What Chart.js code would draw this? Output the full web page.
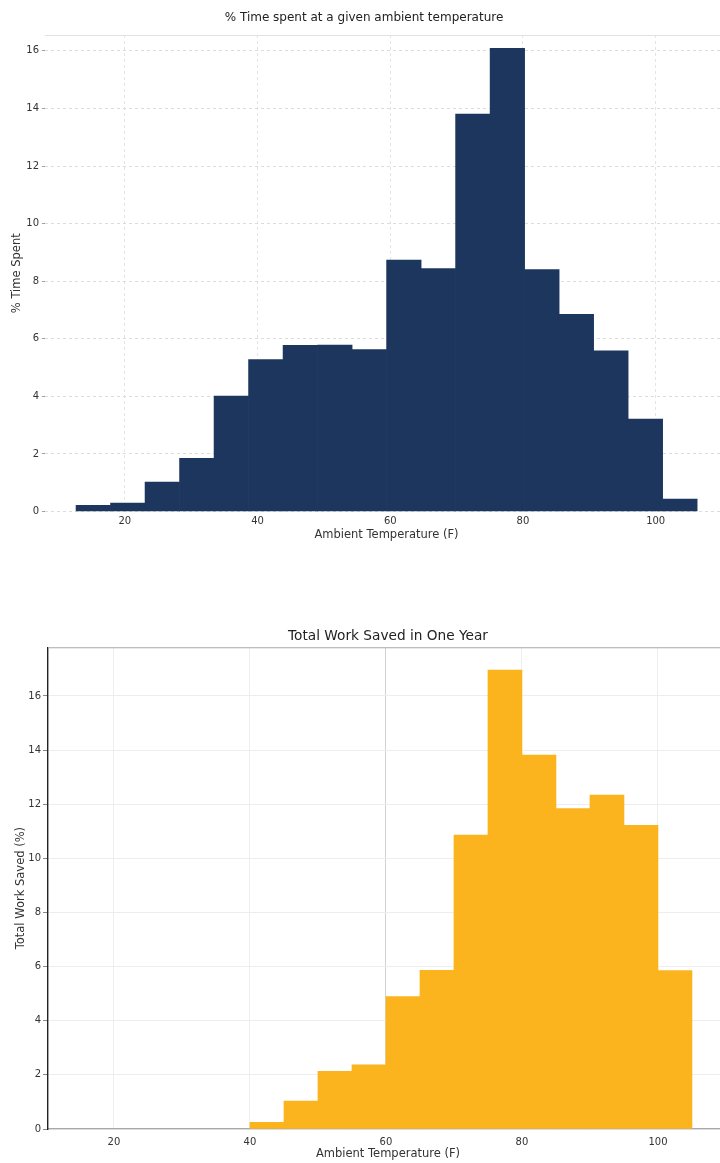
<!DOCTYPE html>
<html lang="en">
<head>
  <meta charset="UTF-8" />
  <title>Ambient temperature histograms</title>
  <script src="https://cdn.jsdelivr.net/npm/chart.js"></script>
  <style>
    html, body { margin: 0; padding: 0; background: #fff; overflow: hidden; }
    body { width: 720px; height: 1163px; position: relative; }
    canvas { position: absolute; left: 0; display: block; }
    #timeChart { top: 0; }
    #workChart { top: 610px; }
  </style>
</head>
<body>
  <!-- a bit wider than the window: the plot box runs off the right edge like the original -->
  <canvas id="timeChart" width="728" height="552"></canvas>
  <canvas id="workChart" width="728" height="553"></canvas>

  <script>
    // top histogram: bin centres (F) and % of time
    const timeBins = [15.25, 20.45, 25.65, 30.85, 36.05, 41.25, 46.45, 51.65, 56.85,
                      62.05, 67.25, 72.45, 77.65, 82.85, 88.05, 93.25, 98.45, 103.65];
    const timeValues = [0.21, 0.29, 1.02, 1.85, 4.01, 5.28, 5.77, 5.78, 5.62,
                        8.73, 8.44, 13.80, 16.09, 8.40, 6.85, 5.58, 3.21, 0.43];

    // bottom histogram: 5 degree bins from 40 to 105
    const workBins = [42.5, 47.5, 52.5, 57.5, 62.5, 67.5, 72.5, 77.5, 82.5, 87.5, 92.5, 97.5, 102.5];
    const workValues = [0.25, 1.03, 2.13, 2.37, 4.89, 5.86, 10.86, 16.96, 13.82, 11.84, 12.34, 11.22, 5.85];

    const tempTicks = [20, 40, 60, 80, 100];
    const pctTicks = [0, 2, 4, 6, 8, 10, 12, 14, 16];

    const FONT = "'DejaVu Sans', sans-serif";
    const TEXT = '#333';

    // draws the top edge of the plot box
    const framePlugin = {
      id: 'frame',
      afterDraw(chart, args, opts) {
        if (!opts.top) return;
        const { ctx, chartArea } = chart;
        ctx.save();
        ctx.strokeStyle = opts.top;
        ctx.lineWidth = opts.width || 1;
        ctx.beginPath();
        ctx.moveTo(chartArea.left, chartArea.top + 0.5);
        ctx.lineTo(chartArea.right, chartArea.top + 0.5);
        ctx.stroke();
        ctx.restore();
      }
    };

    function toPoints(xs, ys) {
      return xs.map((x, i) => ({ x: x, y: ys[i] }));
    }

    new Chart(document.getElementById('timeChart'), {
      type: 'bar',
      data: {
        datasets: [{
          data: toPoints(timeBins, timeValues),
          backgroundColor: '#1d365d',
          borderWidth: 0,
          barPercentage: 1,
          categoryPercentage: 1
        }]
      },
      options: {
        responsive: false,
        animation: false,
        layout: { padding: 0 },
        plugins: {
          legend: { display: false },
          tooltip: { enabled: false },
          title: {
            display: true,
            text: '% Time spent at a given ambient temperature',
            color: '#222',
            font: { family: FONT, size: 12, weight: 'normal' },
            padding: { top: 11, bottom: 9.6 }
          },
          frame: { top: '#e2e2e2', width: 1 }
        },
        scales: {
          x: {
            type: 'linear',
            min: 7.97,
            max: 110.9,
            offset: false,
            afterBuildTicks: s => { s.ticks = tempTicks.map(v => ({ value: v })); },
            afterFit: s => { s.height = 40.5; },
            border: { display: false, dash: [3, 3] },
            grid: {
              offset: false,
              color: '#dedede',
              lineWidth: 0.8,
              drawTicks: true,
              tickLength: 2,
              tickColor: 'rgba(0,0,0,0)'
            },
            ticks: { color: TEXT, font: { family: FONT, size: 10 }, padding: 2, maxRotation: 0 },
            title: {
              display: true,
              text: 'Ambient Temperature (F)',
              color: TEXT,
              font: { family: FONT, size: 11.5 },
              padding: { top: 0, bottom: 10 }
            }
          },
          y: {
            min: 0,
            max: 16.55,
            afterBuildTicks: s => { s.ticks = pctTicks.map(v => ({ value: v })); },
            afterFit: s => { s.width = 45; },
            border: { display: false, dash: [3, 3] },
            grid: {
              color: '#d4d4d4',
              lineWidth: 0.8,
              drawTicks: true,
              tickLength: 3,
              tickColor: '#888',
              tickBorderDash: []
            },
            ticks: { color: TEXT, font: { family: FONT, size: 10 }, padding: 3 },
            title: {
              display: true,
              text: '% Time Spent',
              color: TEXT,
              font: { family: FONT, size: 11.5 },
              padding: { top: 10, bottom: 0 }
            }
          }
        }
      },
      plugins: [framePlugin]
    });

    new Chart(document.getElementById('workChart'), {
      type: 'bar',
      data: {
        datasets: [{
          data: toPoints(workBins, workValues),
          backgroundColor: '#fbb41e',
          borderWidth: 0,
          barPercentage: 1,
          categoryPercentage: 1
        }]
      },
      options: {
        responsive: false,
        animation: false,
        layout: { padding: 0 },
        plugins: {
          legend: { display: false },
          tooltip: { enabled: false },
          title: {
            display: true,
            fullSize: false,   // centred over the plot box, not the canvas
            text: 'Total Work Saved in One Year',
            color: '#222',
            font: { family: FONT, size: 13.7, weight: 'normal' },
            padding: { top: 17.8, bottom: 3 }
          },
          frame: { top: '#a8a8a8', width: 1.2 }
        },
        scales: {
          x: {
            type: 'linear',
            min: 10.3,
            max: 110.3,
            offset: false,
            afterBuildTicks: s => { s.ticks = tempTicks.map(v => ({ value: v })); },
            afterFit: s => { s.height = 34; },
            border: { display: true, color: '#a8a8a8', width: 1.2 },
            grid: {
              offset: false,
              color: ctx => (ctx.tick && ctx.tick.value === 60 ? '#d2d2d2' : '#efefef'),
              lineWidth: 1,
              drawTicks: true,
              tickLength: 4,
              tickColor: 'rgba(0,0,0,0)'
            },
            ticks: { color: TEXT, font: { family: FONT, size: 10 }, padding: 3, maxRotation: 0 },
            title: {
              display: true,
              text: 'Ambient Temperature (F)',
              color: TEXT,
              font: { family: FONT, size: 11.5 },
              padding: { top: 0, bottom: 2.2 }
            }
          },
          y: {
            min: 0,
            max: 17.8,
            afterBuildTicks: s => { s.ticks = pctTicks.map(v => ({ value: v })); },
            afterFit: s => { s.width = 48; },
            border: { display: true, color: '#222', width: 1.4 },
            grid: {
              color: '#ededed',
              lineWidth: 1,
              drawTicks: true,
              tickLength: 5,
              tickColor: '#888'
            },
            ticks: { color: TEXT, font: { family: FONT, size: 10 }, padding: 2 },
            title: {
              display: true,
              text: 'Total Work Saved (%)',
              color: TEXT,
              font: { family: FONT, size: 11.5 },
              padding: { top: 14.5, bottom: 0 }
            }
          }
        }
      },
      plugins: [framePlugin]
    });
  </script>
</body>
</html>
